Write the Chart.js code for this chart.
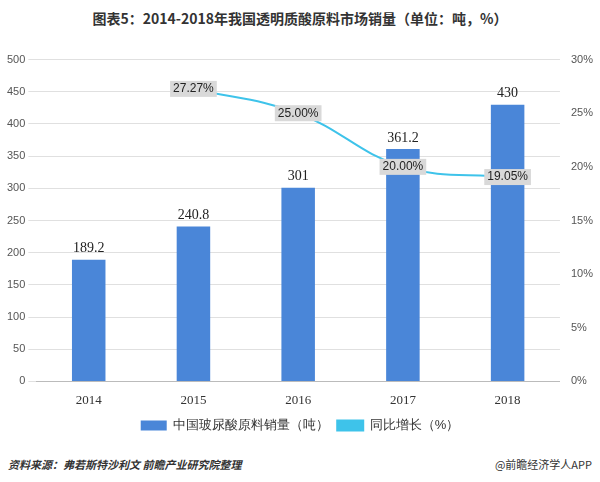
<!DOCTYPE html>
<html><head><meta charset="utf-8">
<script src="https://cdn.jsdelivr.net/npm/chart.js@4/dist/chart.umd.min.js"></script>
<style>
body{margin:0;background:#fff;font-family:"Noto Sans CJK SC",sans-serif;}
#wrap{position:relative;width:600px;height:482px;}
#title{position:absolute;top:8px;width:600px;text-align:center;font-size:14px;font-weight:bold;color:#333;}
#chartBox{position:absolute;top:50px;left:0;width:600px;height:392px;}
#src{position:absolute;left:8px;top:456px;font-size:11px;font-style:italic;font-weight:bold;color:#333;}
#app{position:absolute;right:8px;top:456px;font-size:11px;color:#333;}
</style></head><body>
<div id="wrap">
<div id="title">图表5：2014-2018年我国透明质酸原料市场销量（单位：吨，%）</div>
<div id="chartBox"><canvas id="c"></canvas></div>
<div id="src">资料来源：弗若斯特沙利文 前瞻产业研究院整理</div>
<div id="app">@前瞻经济学人APP</div>
</div>
<script>
var years = ['2014', '2015', '2016', '2017', '2018'];
var sales = [189.2, 240.8, 301, 361.2, 430];
var growth = [null, 27.27, 25.00, 20.00, 19.05];

var labelPlugin = {
    id: 'labels',
    afterDatasetsDraw: function(chart) {
        var ctx = chart.ctx;
        ctx.save();
        ctx.font = '14px "Liberation Serif", serif';
        ctx.textAlign = 'center';
        ctx.fillStyle = '#222';
        chart.getDatasetMeta(0).data.forEach(function(bar, i) {
            ctx.textBaseline = 'bottom';
            ctx.fillText(String(sales[i]), bar.x, bar.y - 4);
        });
        ctx.font = '12px "Liberation Sans", sans-serif';
        chart.getDatasetMeta(1).data.forEach(function(pt, i) {
            if (growth[i] == null) return;
            var t = growth[i].toFixed(2) + '%';
            var w = ctx.measureText(t).width + 6;
            ctx.fillStyle = '#d9d9d9';
            ctx.fillRect(pt.x - w / 2, pt.y - 8, w, 16);
            ctx.fillStyle = '#222';
            ctx.textBaseline = 'middle';
            ctx.fillText(t, pt.x, pt.y);
        });
        ctx.restore();
    }
};

new Chart(document.getElementById('c'), {
    data: {
        labels: years,
        datasets: [{
            type: 'bar',
            label: '中国玻尿酸原料销量（吨）',
            data: sales,
            backgroundColor: '#4a86d8',
            barPercentage: 0.32,
            categoryPercentage: 1,
            yAxisID: 'y',
            order: 2
        }, {
            type: 'line',
            label: '同比增长（%）',
            data: growth,
            borderColor: '#3ec3ea',
            backgroundColor: '#3ec3ea',
            borderWidth: 2,
            pointRadius: 3,
            tension: 0.4,
            yAxisID: 'y1',
            order: 1
        }]
    },
    options: {
        responsive: true,
        maintainAspectRatio: false,
        animation: false,
        layout: {padding: {left: 4, right: 4, top: 0}},
        plugins: {
            legend: {
                position: 'bottom',
                labels: {
                    font: {size: 13}, color: '#333', boxWidth: 26, boxHeight: 10, padding: 8,
                    sort: function(a, b) { return a.datasetIndex - b.datasetIndex; }
                }
            },
            tooltip: {enabled: false}
        },
        scales: {
            x: {
                grid: {display: false},
                border: {color: '#bbb'},
                ticks: {color: '#333', font: {size: 13, family: 'Liberation Serif'}}
            },
            y: {
                min: 0, max: 500,
                ticks: {stepSize: 50, color: '#555', font: {size: 11}},
                grid: {color: '#e0e0e0'},
                border: {display: false}
            },
            y1: {
                position: 'right',
                min: 0, max: 30,
                ticks: {stepSize: 5, color: '#555', font: {size: 11}, callback: function(v) { return v + '%'; }},
                grid: {display: false},
                border: {display: false}
            }
        }
    },
    plugins: [labelPlugin]
});
</script>
</body></html>
